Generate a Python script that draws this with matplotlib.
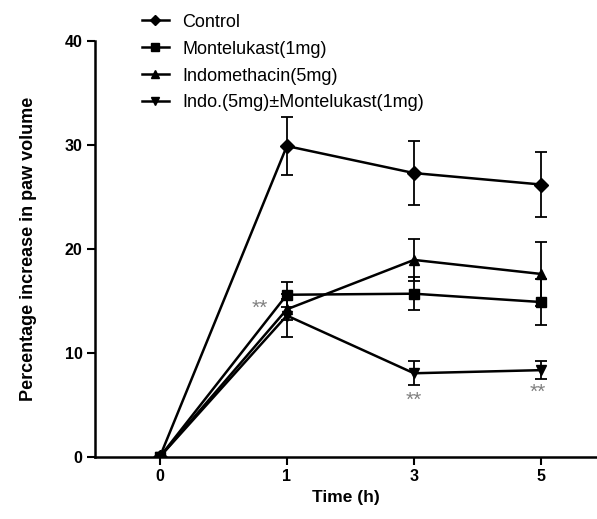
import matplotlib.pyplot as plt
from matplotlib.lines import Line2D
import numpy as np

plt.rcParams['font.family'] = ['Liberation Sans', 'DejaVu Sans']

# x axis is categorical (equal spacing)
times = ['0', '1', '3', '5']
pos = np.arange(len(times))

control = [0, 29.9, 27.3, 26.2]
control_err = [0, 2.8, 3.1, 3.15]
montelukast = [0, 15.6, 15.7, 14.9]
montelukast_err = [0, 1.2, 1.6, 2.2]
indometh = [0, 14.2, 18.95, 17.6]
indometh_err = [0, 1.0, 2.05, 3.1]
combo = [0, 13.6, 8.05, 8.35]
combo_err = [0, 2.1, 1.15, 0.85]

labels = ['Control', 'Montelukast(1mg)', 'Indomethacin(5mg)',
          'Indo.(5mg)\u00b1Montelukast(1mg)']

# significance marks: (category index, y value, dx offset)
stars = [(1, 14.3, -0.21), (2, 5.4, 0.0), (3, 6.2, -0.03)]

fig = plt.figure(figsize=(5.97, 5.19), dpi=100)
ax = fig.add_axes([0.159, 0.1195, 0.841, 0.8015])

series = [(control, control_err, 'D', 7),
          (montelukast, montelukast_err, 's', 7),
          (indometh, indometh_err, '^', 7.5),
          (combo, combo_err, 'v', 7.5)]
handles = []
for (vals, err, m, ms), lab in zip(series, labels):
    ax.errorbar(pos, vals, yerr=err, color='black', marker=m, markersize=ms,
                linewidth=1.8, elinewidth=1.3, capsize=4, capthick=1.3)
    handles.append(Line2D([], [], color='black', marker=m, markersize=ms - 1.5,
                          linewidth=1.8))

for i, y, dx in stars:
    ax.text(pos[i] + dx, y, '**', color='#808080', fontsize=15,
            ha='center', va='center')

ax.set_xlim(-0.51, 3.44)
ax.set_ylim(0, 40)
ax.set_xticks(pos)
ax.set_xticklabels(times)
ax.set_yticks([0, 10, 20, 30, 40])
for lab in ax.get_xticklabels() + ax.get_yticklabels():
    lab.set_fontweight('bold')
    lab.set_fontsize(11.5)
ax.tick_params(direction='out', length=6, width=1.5, pad=3)
ax.spines['top'].set_visible(False)
ax.spines['right'].set_visible(False)
ax.spines['left'].set_linewidth(1.8)
ax.spines['bottom'].set_linewidth(1.8)

ax.set_xlabel('Time (h)', fontweight='bold', fontsize=12.5, labelpad=4)
ax.set_ylabel('Percentage increase in paw volume', fontweight='bold',
              fontsize=13, labelpad=20)

fig.legend(handles=handles, labels=labels, loc='upper left',
           bbox_to_anchor=(0.21, 1.005), frameon=False, fontsize=13,
           handlelength=1.5, handletextpad=0.75, labelspacing=0.55)

fig.savefig('out.png', dpi=100)
